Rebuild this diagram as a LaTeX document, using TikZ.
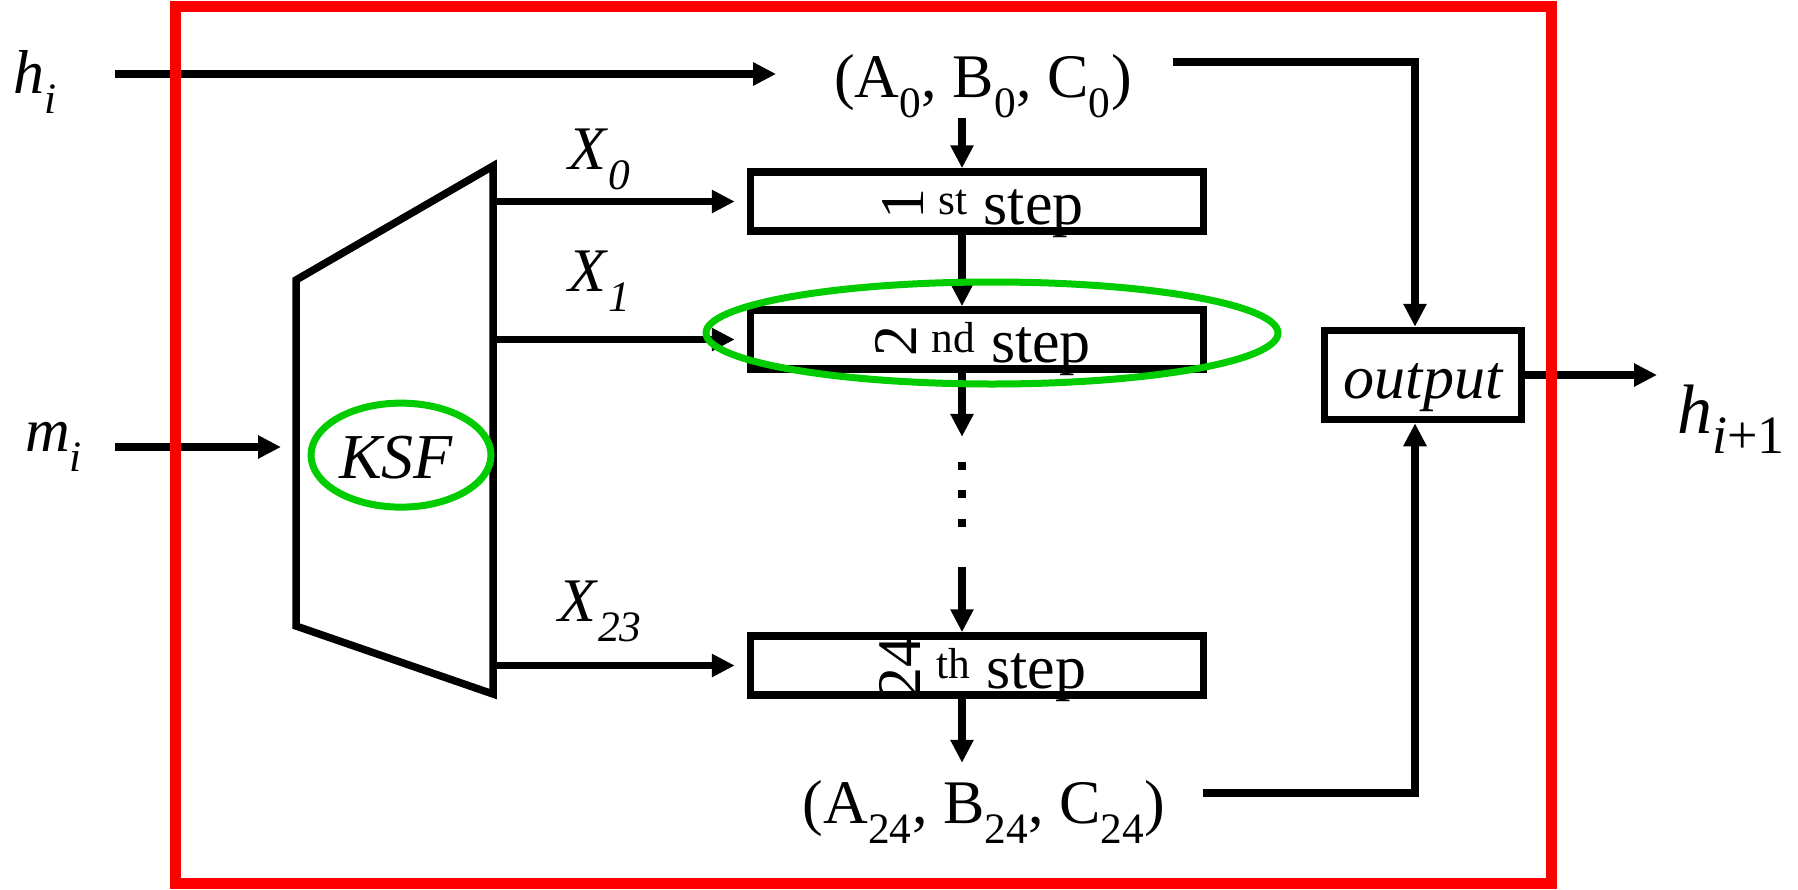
\documentclass[tikz,border=0pt]{standalone}
\usepackage{fontspec}
\setmainfont{Liberation Serif}
\usepackage{graphicx}
\usetikzlibrary{arrows.meta,calc,positioning}
\definecolor{framered}{RGB}{255,0,0}
\definecolor{markgreen}{RGB}{0,204,0}
\newcommand{\steplabel}[2]{\hspace*{12pt}\rotatebox[origin=c]{90}{#1} \textsuperscript{#2} step}
\tikzset{
  wire/.style={black,line width=7.5pt},
  flow/.style={wire,-{Triangle[length=23pt,width=22pt]}},
  lab/.style={inner sep=0pt,font=\fontsize{62}{70}\selectfont},
  biglab/.style={inner sep=0pt,font=\fontsize{70}{76}\selectfont},
  stepbox/.style={draw=black,line width=7.5pt,minimum width=453pt,inner sep=0pt,
                  text height=52pt,text depth=7pt,font=\fontsize{62}{70}\selectfont},
  outbox/.style={draw=black,line width=7.5pt,minimum width=197pt,inner sep=0pt,
                 text height=67.5pt,text depth=21.5pt,font=\fontsize{62}{70}\selectfont\itshape},
  ring/.style={markgreen,line width=7pt},
  redframe/.style={framered,line width=11pt},
  dotcol/.style={black,line width=8pt,dash pattern=on 8pt off 20.5pt},
}

\begin{document}
\begin{tikzpicture}[x=1pt,y=-1pt]
  \path[use as bounding box] (0,0) rectangle (1798,889);
  \coordinate (spine) at (962,0);
  \coordinate (hstart) at (115,74);
  \coordinate (mstart) at (115,447);

  % key schedule block
  \coordinate (ksfTL) at (296,280);
  \coordinate (ksfTR) at (493,166);
  \coordinate (ksfBR) at (493,694);
  \coordinate (ksfBL) at (296,626);
  \draw[wire] (ksfTL) -- (ksfTR) -- (ksfBR) -- (ksfBL) -- cycle;
  \node[lab,font=\fontsize{64}{70}\selectfont\itshape,anchor=base] (ksf) at (396,478) {KSF};

  \node[lab,anchor=base west] (hin) at (13,93) {\textit{h}\textsubscript{\textit{i}}};
  \node[lab,anchor=base west] (min) at (25,451) {\textit{m}\textsubscript{\textit{i}}};
  \node[biglab,anchor=base west] (hout) at (1677,433)
    {\textit{h}\raisebox{-20pt}{\fontsize{54}{60}\selectfont\textit{i}+1}};
  \node[lab,anchor=base] (abc0) at (983,97) {(A\textsubscript{0}, B\textsubscript{0}, C\textsubscript{0})};
  \node[lab,anchor=base] (abc24) at (984,823) {(A\textsubscript{24}, B\textsubscript{24}, C\textsubscript{24})};

  \node[stepbox] (step1) at (977,201.5) {\steplabel{1}{st}};
  \node[stepbox] (step2) at (977,339.5) {\steplabel{2}{nd}};
  \node[stepbox] (step24) at (977,665.5) {\steplabel{24}{th}};
  \node[inner sep=0pt,minimum height=130pt,minimum width=1pt] (dots) at (962,502) {};
  \node[outbox] (output) at (1423,375) {output};

  \node[lab,anchor=base west] (x0) at (568,169) {\textit{X}\textsubscript{\textit{0}}};
  \node[lab,anchor=base west] (x1) at (568,291) {\textit{X}\textsubscript{\textit{1}}};
  \node[lab,anchor=base west] (x23) at (558,621) {\textit{X}\textsubscript{\textit{23}}};

  % connectors
  \draw[flow,shorten >=58pt] (hstart) -- (hstart -| abc0.base west);
  \draw[flow,shorten >=15pt] (mstart) -- (mstart -| ksfTL);
  \draw[flow] (abc0.south -| spine) -- (step1.north -| spine);
  \draw[flow] (step1.south -| spine) -- (step2.north -| spine);
  \draw[flow] (step2.south -| spine) -- (dots.north);
  \draw[dotcol] ([yshift=-25pt]dots.north) -- ([yshift=40pt]dots.south);
  \draw[flow] (dots.south) -- (step24.north -| spine);
  \draw[flow,shorten >=17pt] (step24.south -| spine) -- (abc24.north -| spine);
  \foreach \s in {step1,step2,step24}
    \draw[flow,shorten >=12pt] (\s.west -| ksfTR) -- (\s.west);
  \draw[flow] ([xshift=41pt,yshift=35pt]abc0.base east) -| ([xshift=-8pt]output.north);
  \draw[flow] ([xshift=38pt,yshift=30pt]abc24.base east) -| ([xshift=-8pt]output.south);
  \draw[flow,shorten >=20pt] (output.east) -- (output.east -| hout.base west);

  % highlights and frame
  \draw[ring] ([xshift=5pt,yshift=2pt]ksf.center) ellipse [x radius=90pt,y radius=52pt];
  \draw[ring] ([xshift=15pt,yshift=6.5pt]step2.center) ellipse [x radius=286pt,y radius=51pt];
  \draw[redframe] (175.5,6.5) rectangle (1551,883.5);
\end{tikzpicture}
\end{document}
